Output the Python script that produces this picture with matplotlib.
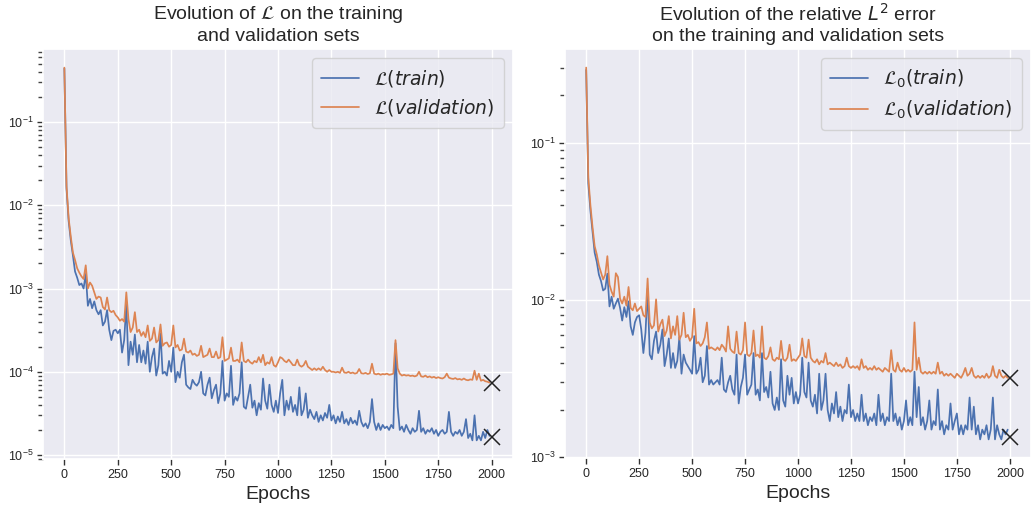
import matplotlib
matplotlib.use("Agg")
import matplotlib.pyplot as plt
from matplotlib.ticker import FixedLocator, LogLocator, NullFormatter
import numpy as np
import seaborn as sns

# epochs sampled every 10
epochs = np.arange(0, 2000, 10)

# left panel: loss L (values in units of 1e-5)
loss_train = np.array([
    44000, 1600, 650, 380, 250, 160, 135, 110, 115, 100,
    150, 62, 75, 58, 70, 55, 49, 55, 36, 40,
    55, 32, 24, 31, 32, 29, 32, 17, 24, 65,
    12, 23, 16, 28, 13, 21, 13, 18, 12.5, 23,
    10, 15, 19, 9, 12, 29, 9.5, 10, 9, 13.5,
    10, 19.5, 7.5, 10, 8.5, 13, 16, 7, 6.5, 6.2,
    8, 7.2, 6.8, 7.5, 10, 5.5, 5.2, 7, 8.5, 4.8,
    6, 7, 4.2, 5.5, 13.5, 4.5, 5.5, 5, 11.8, 4,
    5, 4.5, 5.5, 13, 3.8, 3.6, 5, 7, 3.7, 4.5,
    3, 4.2, 3.5, 8.3, 4.5, 3.6, 7, 4, 3.3, 4.5,
    3.2, 5.5, 8, 3, 4.5, 3.5, 5, 3.3, 4, 3,
    6.5, 3, 3.5, 5.5, 2.8, 3.5, 3, 2.7, 3.3, 2.5,
    3, 2.6, 3.2, 2.8, 4, 2.6, 3, 2.4, 2.9, 2.5,
    3.3, 2.4, 2.7, 2.3, 2.8, 2.4, 2.6, 2.3, 3.4, 2.5,
    2.2, 2.4, 2.1, 2.5, 4.7, 2.5, 2, 2.4, 2, 2.3,
    2.1, 2.2, 2, 2.3, 2.1, 22, 3.8, 2, 2.2, 1.9,
    2.3, 2, 1.8, 2.1, 1.9, 2, 3.4, 1.9, 2.1, 1.8,
    2, 1.9, 2.1, 1.8, 2, 1.7, 1.9, 2, 1.8, 1.9,
    3.3, 1.9, 1.7, 1.9, 1.8, 2, 1.7, 1.9, 2.7, 1.6,
    1.8, 1.5, 3, 1.5, 1.7, 1.5, 1.9, 1.6, 2, 1.7,
]) * 1e-5
loss_val = np.array([
    45000, 1700, 700, 420, 270, 220, 175, 155, 140, 130,
    190, 100, 118, 108, 90, 75, 80, 78, 60, 56,
    78, 55, 52, 54, 48, 45, 41, 43, 40, 90,
    43, 30, 34, 52, 30, 32, 27, 30, 26, 36,
    23.5, 25, 34, 22.5, 24, 37, 20.5, 22, 22.5, 20,
    21, 36, 19.6, 21, 18, 18.5, 25, 17.5, 17, 18,
    16, 16.5, 15.5, 16, 20.5, 15, 15.5, 16, 19, 15,
    15, 17.5, 14.5, 15, 26, 13.5, 14, 14.5, 19.5, 13.5,
    13.5, 14, 13, 22.5, 13.5, 13, 14, 13, 12.5, 13.5,
    13, 15, 13, 16, 12, 13, 12.5, 15, 12, 11.5,
    13, 15, 14.5, 13.5, 13, 14, 13, 12, 12, 14,
    12, 11.5, 12, 13.5, 11.5, 11, 10.5, 11, 10.5, 11,
    10.5, 11.5, 10.5, 10, 10.5, 10, 10, 9.8, 10, 9.7,
    11.2, 9.8, 9.7, 10, 9.6, 9.8, 9.5, 9.7, 10.8, 9.6,
    9.5, 9.7, 9.4, 9.6, 12.5, 9.5, 9.3, 9.5, 9.2, 9.4,
    9.3, 9.5, 9.2, 9.3, 9.5, 24, 11, 9.5, 9, 9.2,
    9, 9.1, 8.9, 9, 8.8, 9, 10, 8.8, 8.7, 9,
    8.6, 8.8, 8.5, 8.7, 8.4, 8.6, 8.4, 8.3, 8.6, 9.5,
    8.5, 8.3, 8.2, 8.4, 8.1, 8.2, 8, 8.3, 8, 7.9,
    8.1, 8, 10.3, 8, 9.5, 7.8, 8, 7.7, 7.6, 7.4,
]) * 1e-5
best_loss_train = 1.65e-5
best_loss_val = 7.3e-5

# right panel: relative L2 error (values in units of 1e-3)
err_train = np.array([
    290, 55, 37, 27, 20, 17.5, 14.5, 13.2, 11.5, 11.8,
    14.7, 9.1, 10.5, 8.8, 9.5, 10.2, 8.9, 7.4, 9, 7.8,
    9.8, 6.8, 6, 7.2, 7.8, 8, 6.5, 4.6, 6.2, 11.8,
    4.5, 4.2, 5.5, 6.3, 4.6, 5.2, 6.5, 3.8, 4.5, 5.7,
    3.7, 4.6, 3.7, 4.1, 5.8, 3.4, 4.5, 4, 3.8, 3.6,
    3.4, 5.9, 3.4, 3.6, 4.3, 3, 3.3, 5.1, 2.9, 3.1,
    2.9, 3, 3.1, 2.9, 4.3, 2.7, 2.6, 3, 3.3, 2.7,
    2.5, 4.5, 2.2, 2.8, 3.2, 4.5, 2.5, 2.7, 2.9, 4.6,
    2.5, 2.7, 2.3, 4.6, 2.6, 2.8, 2.4, 3.5, 2.2, 2,
    2.4, 2, 4.2, 2.3, 2.1, 3.3, 2.5, 3.2, 2.2, 2.6,
    2.2, 2.5, 4.3, 2.6, 2.4, 4, 2.3, 2.1, 2.5, 1.9,
    3.4, 2, 2.3, 3.4, 2, 1.7, 2.2, 1.9, 2.6, 1.8,
    2.1, 1.7, 2, 1.9, 2.9, 1.8, 2, 1.7, 1.9, 1.7,
    2.5, 1.7, 1.9, 1.6, 1.8, 1.7, 1.9, 1.6, 2.5, 1.7,
    1.9, 1.6, 1.8, 1.7, 3.4, 1.7, 1.9, 1.6, 1.8, 1.5,
    1.7, 2.3, 1.6, 1.8, 1.6, 3.5, 1.8, 2.8, 1.6, 1.8,
    1.5, 1.7, 2.3, 1.5, 1.7, 1.6, 2.7, 1.5, 1.7, 1.4,
    1.6, 1.5, 2.2, 1.5, 1.7, 1.9, 1.4, 1.6, 1.4, 1.6,
    1.5, 2.4, 1.5, 2.1, 1.4, 1.6, 1.3, 1.5, 1.4, 1.6,
    1.3, 1.5, 2.4, 1.3, 1.6, 1.4, 1.3, 1.5, 1.4, 1.5,
]) * 1e-3
err_val = np.array([
    300, 60, 40, 29, 22, 19.5, 16.6, 15, 13.5, 14.5,
    19, 12.5, 11.3, 10.5, 14.8, 14, 10.2, 9.5, 10.5, 9.2,
    12.1, 8.9, 8.6, 9.5, 8.5, 8.8, 9.1, 8, 7.8, 13.7,
    7.2, 6.6, 6.9, 10.1, 6.3, 7, 7.5, 5.9, 6.4, 7.9,
    5.7, 6.8, 6, 7.9, 5.6, 6, 8.3, 5.8, 6, 5.5,
    5.8, 8.8, 5.3, 5.4, 5.1, 5.3, 5.8, 7.2, 4.9, 5,
    4.9, 4.8, 5, 4.8, 5.2, 5, 4.7, 6.8, 4.9, 4.7,
    4.6, 6.3, 4.6, 4.5, 4.8, 7.2, 4.5, 4.4, 4.6, 6.4,
    4.4, 4.5, 4.3, 6.8, 4.3, 4.2, 4.4, 5, 4.2, 4.1,
    4.3, 4.2, 5.5, 4.2, 4.1, 4.3, 5.2, 4.1, 4.2, 4.1,
    4.3, 4.5, 5.7, 4.4, 4.3, 5.6, 4.3, 4.1, 4, 4.2,
    3.9, 4.1, 4, 4.6, 3.9, 4, 3.9, 3.8, 4, 3.8,
    3.9, 3.7, 3.8, 4.3, 3.8, 3.7, 3.8, 3.7, 3.8, 3.6,
    4.2, 3.7, 3.8, 3.6, 3.7, 3.6, 3.8, 3.6, 3.7, 3.6,
    3.5, 3.7, 3.6, 3.5, 4.8, 3.6, 3.5, 4, 3.6, 3.5,
    3.7, 3.5, 3.6, 3.5, 3.6, 7.2, 3.6, 4.3, 3.5, 3.4,
    3.5, 3.4, 3.5, 3.4, 3.5, 3.4, 4, 3.4, 3.5, 3.3,
    3.4, 3.3, 3.4, 3.3, 3.2, 3.4, 3.3, 3.2, 3.4, 3.7,
    3.3, 3.4, 3.7, 3.3, 3.2, 3.3, 3.2, 3.3, 3.2, 3.4,
    3.2, 3.3, 3.8, 3.3, 3.2, 3.6, 3.3, 3.2, 3.3, 3.2,
]) * 1e-3
best_err_train = 1.34e-3
best_err_val = 3.2e-3
last_epoch = 2000

sns.set_theme(style="darkgrid")
plt.rcParams['font.family'] = ['Liberation Sans', 'DejaVu Sans']
plt.rcParams['mathtext.fontset'] = 'dejavusans'

blue = sns.color_palette("deep")[0]
orange = sns.color_palette("deep")[1]

# minor tick spots on a log axis: 2..9 times each power of ten
minor_spots = [m * 10.0 ** e for e in range(-7, 1) for m in range(2, 10)]

fig = plt.figure(figsize=(10.31, 5.08), dpi=100)
ax1 = fig.add_axes([43 / 1031, 49 / 508, 470 / 1031, 410 / 508])
ax2 = fig.add_axes([565 / 1031, 50 / 508, 466 / 1031, 409 / 508])

panels = [
    (ax1, loss_train, loss_val, best_loss_train, best_loss_val,
     r'$\mathcal{L}(train)$', r'$\mathcal{L}(validation)$',
     'Evolution of $\\mathcal{L}$ on the training\nand validation sets'),
    (ax2, err_train, err_val, best_err_train, best_err_val,
     r'$\mathcal{L}_0(train)$', r'$\mathcal{L}_0(validation)$',
     'Evolution of the relative $L^2$ error\non the training and validation sets'),
]

for ax, tr, va, btr, bva, lab_tr, lab_va, title in panels:
    ax.plot(epochs, tr, color=blue, lw=1.25, label=lab_tr)
    ax.plot(epochs, va, color=orange, lw=1.25, label=lab_va)
    ax.plot([last_epoch], [btr], 'x', color='#222222', ms=11, mew=1.1)
    ax.plot([last_epoch], [bva], 'x', color='#222222', ms=11, mew=1.1)
    ax.set_yscale('log')
    ax.yaxis.set_major_locator(LogLocator(base=10, numticks=20))
    ax.yaxis.set_minor_locator(FixedLocator(minor_spots))
    ax.yaxis.set_minor_formatter(NullFormatter())
    ax.set_xticks(np.arange(0, 2001, 250))
    ax.set_xlim(-100, 2100)
    ax.tick_params(axis='both', which='major', labelsize=9, left=True, bottom=True,
                   length=4, width=1.0, color='#333333', pad=3)
    ax.tick_params(axis='y', which='minor', left=True, length=3.5, width=1.0, color='#444444')
    ax.grid(True, which='major', color='white', lw=1.0)
    ax.grid(False, which='minor')
    ax.set_xlabel('Epochs', fontsize=14, labelpad=4)
    ax.set_title(title, fontsize=14, pad=6, color='#262626')
    ax.legend(loc='upper right', fontsize=13.5, frameon=True, handlelength=2.0,
              borderpad=0.5, labelspacing=0.45)

fig.savefig('out.png', dpi=100)
